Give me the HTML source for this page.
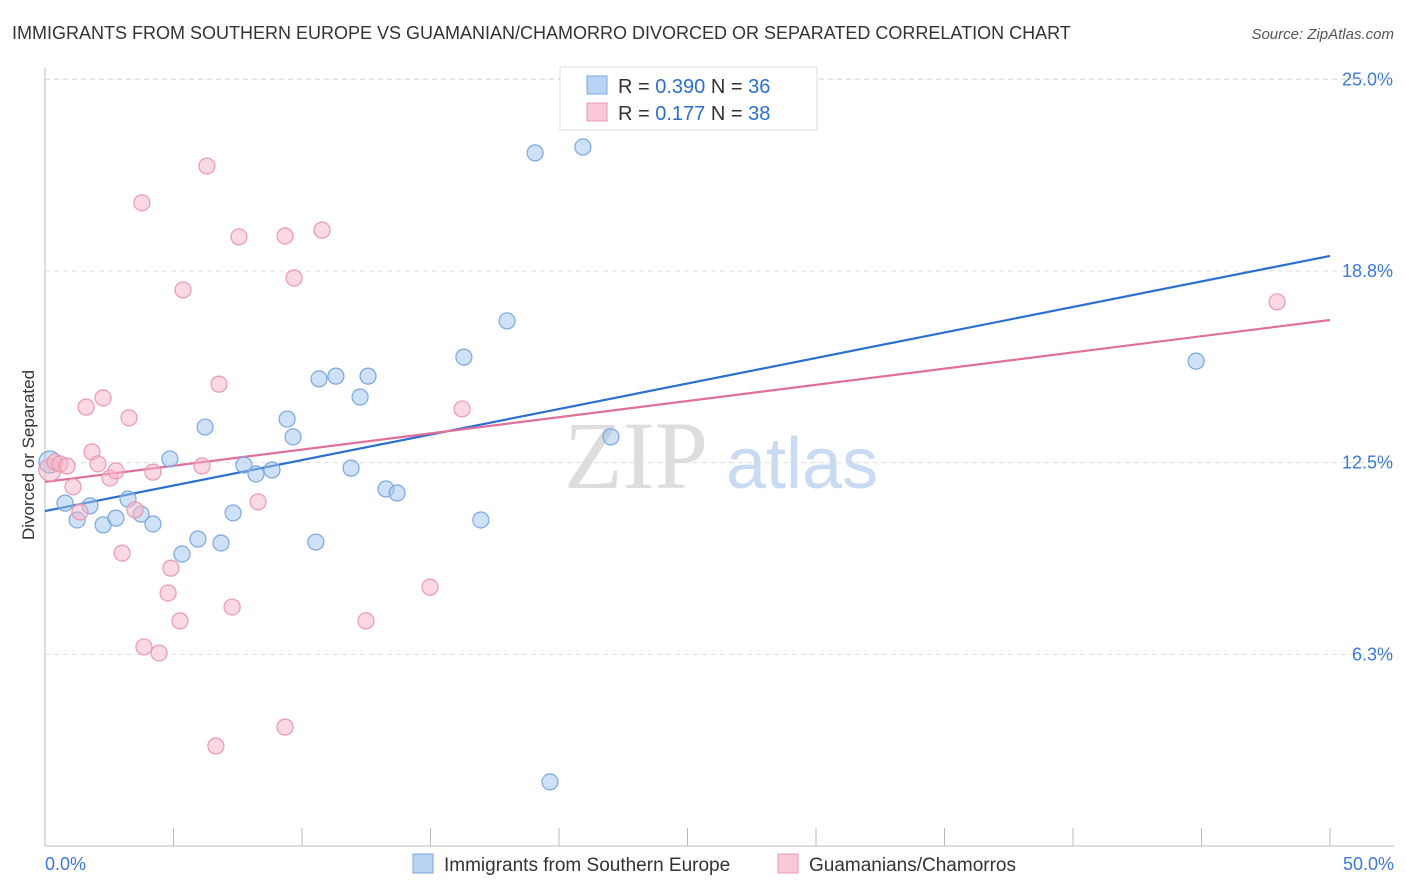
<!DOCTYPE html>
<html><head><meta charset="utf-8"><style>
body{margin:0;background:#fff;font-family:"Liberation Sans",sans-serif;}
svg{display:block}
</style></head><body>
<svg width="1406" height="892">
<text x="12" y="39" font-size="18" fill="#333">IMMIGRANTS FROM SOUTHERN EUROPE VS GUAMANIAN/CHAMORRO DIVORCED OR SEPARATED CORRELATION CHART</text>
<text x="1394" y="39" font-size="15" fill="#555" font-style="italic" text-anchor="end">Source: ZipAtlas.com</text>
<text x="636" y="488" font-size="96" fill="#ddd" font-family="Liberation Serif,serif" text-anchor="middle">ZIP</text>
<text x="802" y="488" font-size="72" fill="#c9daf3" text-anchor="middle">atlas</text>
<g id="grid"></g>
<g id="axes"></g>
<text transform="translate(34,455) rotate(-90)" font-size="17" fill="#333" text-anchor="middle">Divorced or Separated</text>
<g id="lines"></g>
<g id="pts"></g>
<g>
<rect x="560" y="67" width="257" height="63" fill="#fff" stroke="#ddd"/>
<rect x="587" y="76" width="20" height="18" fill="#b9d3f5" stroke="#7aa7e0"/>
<rect x="587" y="103" width="20" height="18" fill="#f9c9d8" stroke="#eb97b0"/>
<text x="618" y="93" font-size="20" fill="#333">R = <tspan fill="#2b6fd1">0.390</tspan>    N = <tspan fill="#2b6fd1">36</tspan></text>
<text x="618" y="120" font-size="20" fill="#333">R =  <tspan fill="#2b6fd1">0.177</tspan>    N = <tspan fill="#2b6fd1">38</tspan></text>
</g>
<text x="45" y="870" font-size="18" fill="#3b78d8">0.0%</text>
<text x="1394" y="870" font-size="18" fill="#3b78d8" text-anchor="end">50.0%</text>
<g>
<rect x="413" y="854" width="20" height="19" fill="#b9d3f5" stroke="#7aa7e0"/>
<text x="444" y="871" font-size="19" fill="#333">Immigrants from Southern Europe</text>
<rect x="778" y="854" width="20" height="19" fill="#f9c9d8" stroke="#eb97b0"/>
<text x="809" y="871" font-size="19" fill="#333">Guamanians/Chamorros</text>
</g>
</svg>
<script>
const yTicks=[6.25,12.5,18.75,25];
const yTickLabels=["6.3%","12.5%","18.8%","25.0%"];
const xTicks=[0,5,10,15,20,25,30,35,40,45,50];
const blueX=[0.19,0.78,1.25,1.75,2.26,2.76,3.23,3.74,4.20,4.86,5.33,5.95,6.23,6.85,7.32,7.74,8.21,8.83,9.42,9.65,10.54,10.66,11.32,11.91,12.26,12.57,13.27,13.70,16.30,16.96,17.98,19.07,20.93,22.02,44.79,19.65];
const blueY=[12.52,11.18,10.63,11.09,10.47,10.69,11.31,10.82,10.50,12.62,9.52,10.01,13.66,9.88,10.86,12.42,12.13,12.26,13.92,13.34,9.91,15.23,15.32,12.32,14.64,15.32,11.64,11.51,15.94,10.63,17.12,22.60,22.79,13.34,15.81,2.09];
const pinkX=[0.19,0.39,0.58,0.86,1.09,1.36,1.60,1.83,2.06,2.26,2.53,2.76,3.00,3.27,3.50,3.77,3.85,4.20,4.44,4.79,4.90,5.25,5.37,6.11,6.30,6.65,6.77,7.28,7.55,8.29,9.34,9.34,9.69,10.78,12.49,14.98,16.23,47.94];
const pinkY=[12.26,12.52,12.46,12.39,11.71,10.89,14.31,12.85,12.46,14.61,12.00,12.23,9.55,13.96,10.96,20.97,6.49,12.19,6.29,8.25,9.06,7.34,18.13,12.39,22.17,3.26,15.06,7.79,19.86,11.22,3.88,19.89,18.52,20.08,7.34,8.44,14.25,17.74];
const blueTrend=[10.92,19.24];
const pinkTrend=[11.87,17.15];
const NS="http://www.w3.org/2000/svg";
const X=v=>45+v*25.7, Y=v=>846-v*30.67;
function mk(t,a,p){const e=document.createElementNS(NS,t);for(const k in a)e.setAttribute(k,a[k]);p.appendChild(e);return e;}
const grid=document.getElementById('grid'),axes=document.getElementById('axes');
yTicks.forEach((t,i)=>{
 const l=mk('line',{x1:45,x2:1394,y1:Y(t),y2:Y(t),stroke:'#ddd','stroke-dasharray':'5,4'},grid);
 
 
 const tx=mk('text',{x:1393,y:Y(t)+6,'font-size':18,fill:'#3b78d8','text-anchor':'end'},grid);
 tx.textContent=yTickLabels[i];
 
 
});
mk('line',{x1:45,x2:1394,y1:Y(25)-0,y2:Y(25),stroke:'#ddd','stroke-dasharray':'5,4'},grid);
const ya=mk('line',{x1:45,x2:45,y1:68,y2:846,stroke:'#bbb'},axes);


const xa=mk('line',{x1:45,x2:1394,y1:846,y2:846,stroke:'#bbb'},axes);


xTicks.forEach(t=>{
 const l=mk('line',{x1:X(t),x2:X(t),y1:828,y2:846,stroke:'#bbb'},axes);
 
 
});
const lines=document.getElementById('lines'),pts=document.getElementById('pts');
function series(xs,ys,fill,stroke,name){
 xs.forEach((x,i)=>{
  const c=mk('circle',{cx:X(x),cy:Y(ys[i]),r:i===0?11:8,fill:fill,stroke:stroke,'stroke-width':1.2},pts);
  
  
 });
}
series(blueX,blueY,'rgba(160,196,240,0.5)','#7aa7e0','point-southern-europe');
series(pinkX,pinkY,'rgba(248,180,200,0.5)','#eb97b0','point-guamanian');
const bl=mk('line',{x1:X(0),y1:Y(blueTrend[0]),x2:X(50),y2:Y(blueTrend[1]),stroke:'#2b6fd1','stroke-width':2.2},lines);


const pl=mk('line',{x1:X(0),y1:Y(pinkTrend[0]),x2:X(50),y2:Y(pinkTrend[1]),stroke:'#e0709a','stroke-width':2.2},lines);


</script>
</body></html>
